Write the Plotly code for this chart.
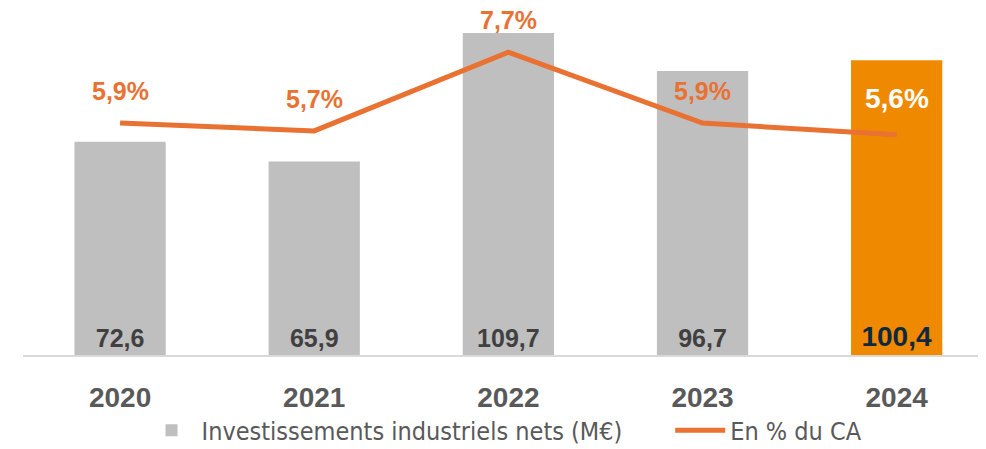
import plotly.graph_objects as go

# Données
annees = ["2020", "2021", "2022", "2023", "2024"]
investissements = [72.6, 65.9, 109.7, 96.7, 100.4]
pct_ca = [5.9, 5.7, 7.7, 5.9, 5.6]


def fmt_fr(v, suffix=""):
    return f"{v:.1f}".replace(".", ",") + suffix


GRIS = "#BFBFBF"
ORANGE_BAR = "#EF8A00"
ORANGE_LIGNE = "#E97132"
TEXTE = "#595959"
POLICE = "Liberation Sans, Arial, sans-serif"

bar_colors = [GRIS] * (len(annees) - 1) + [ORANGE_BAR]
bar_text_colors = ["#404040"] * (len(annees) - 1) + ["#0E2841"]
bar_text_sizes = [25] * (len(annees) - 1) + [28]

fig = go.Figure()

fig.add_trace(
    go.Bar(
        x=annees,
        y=investissements,
        # espaces insécables pour écarter les deux entrées de la légende
        name="Investissements industriels nets (M€)" + "\u00a0" * 6,
        marker=dict(color=bar_colors, line=dict(width=0)),
        width=0.47,
        text=[fmt_fr(v) for v in investissements],
        textposition="inside",
        insidetextanchor="start",
        textangle=0,
        textfont=dict(family=POLICE, size=bar_text_sizes, color=bar_text_colors, weight="bold"),
        cliponaxis=False,
    )
)

fig.add_trace(
    go.Scatter(
        x=annees,
        y=pct_ca,
        name="En % du CA",
        mode="lines",
        line=dict(color=ORANGE_LIGNE, width=5),
        yaxis="y2",
    )
)

# Étiquettes des pourcentages (x = index de la catégorie)
for i, p in enumerate(pct_ca):
    last = i == len(pct_ca) - 1
    fig.add_annotation(
        x=i,
        y=p,
        xref="x",
        yref="y2",
        text="<b>" + fmt_fr(p, "%") + "</b>",
        showarrow=False,
        yshift=36 if last else 32,
        font=dict(family=POLICE, size=28 if last else 25, color="white" if last else ORANGE_LIGNE),
    )

# la page ajoute 8 px de marge autour du graphique
fig.update_layout(
    width=978,
    height=441,
    margin=dict(l=15, r=0, t=12, b=94, autoexpand=False),
    plot_bgcolor="white",
    paper_bgcolor="white",
    showlegend=True,
    legend=dict(
        orientation="h",
        x=0.5,
        xanchor="center",
        y=-0.225,
        yanchor="middle",
        bgcolor="rgba(0,0,0,0)",
        font=dict(family="DejaVu Sans Condensed, Liberation Sans Narrow, sans-serif", size=25, color=TEXTE),
        itemwidth=50,
    ),
    xaxis=dict(
        range=[-0.5, 4.46],
        showline=True,
        linecolor="#D9D9D9",
        linewidth=2,
        ticks="",
        ticklabelstandoff=16,
        tickfont=dict(family=POLICE, size=28, color=TEXTE, weight="bold"),
        showgrid=False,
        zeroline=False,
    ),
    yaxis=dict(
        range=[0, 114.1],
        showticklabels=False,
        showline=False,
        ticks="",
        showgrid=False,
        zeroline=False,
    ),
    yaxis2=dict(
        range=[0, 8.52],
        overlaying="y",
        side="right",
        showticklabels=False,
        showline=False,
        ticks="",
        showgrid=False,
        zeroline=False,
    ),
)

fig.write_html("out.html")
